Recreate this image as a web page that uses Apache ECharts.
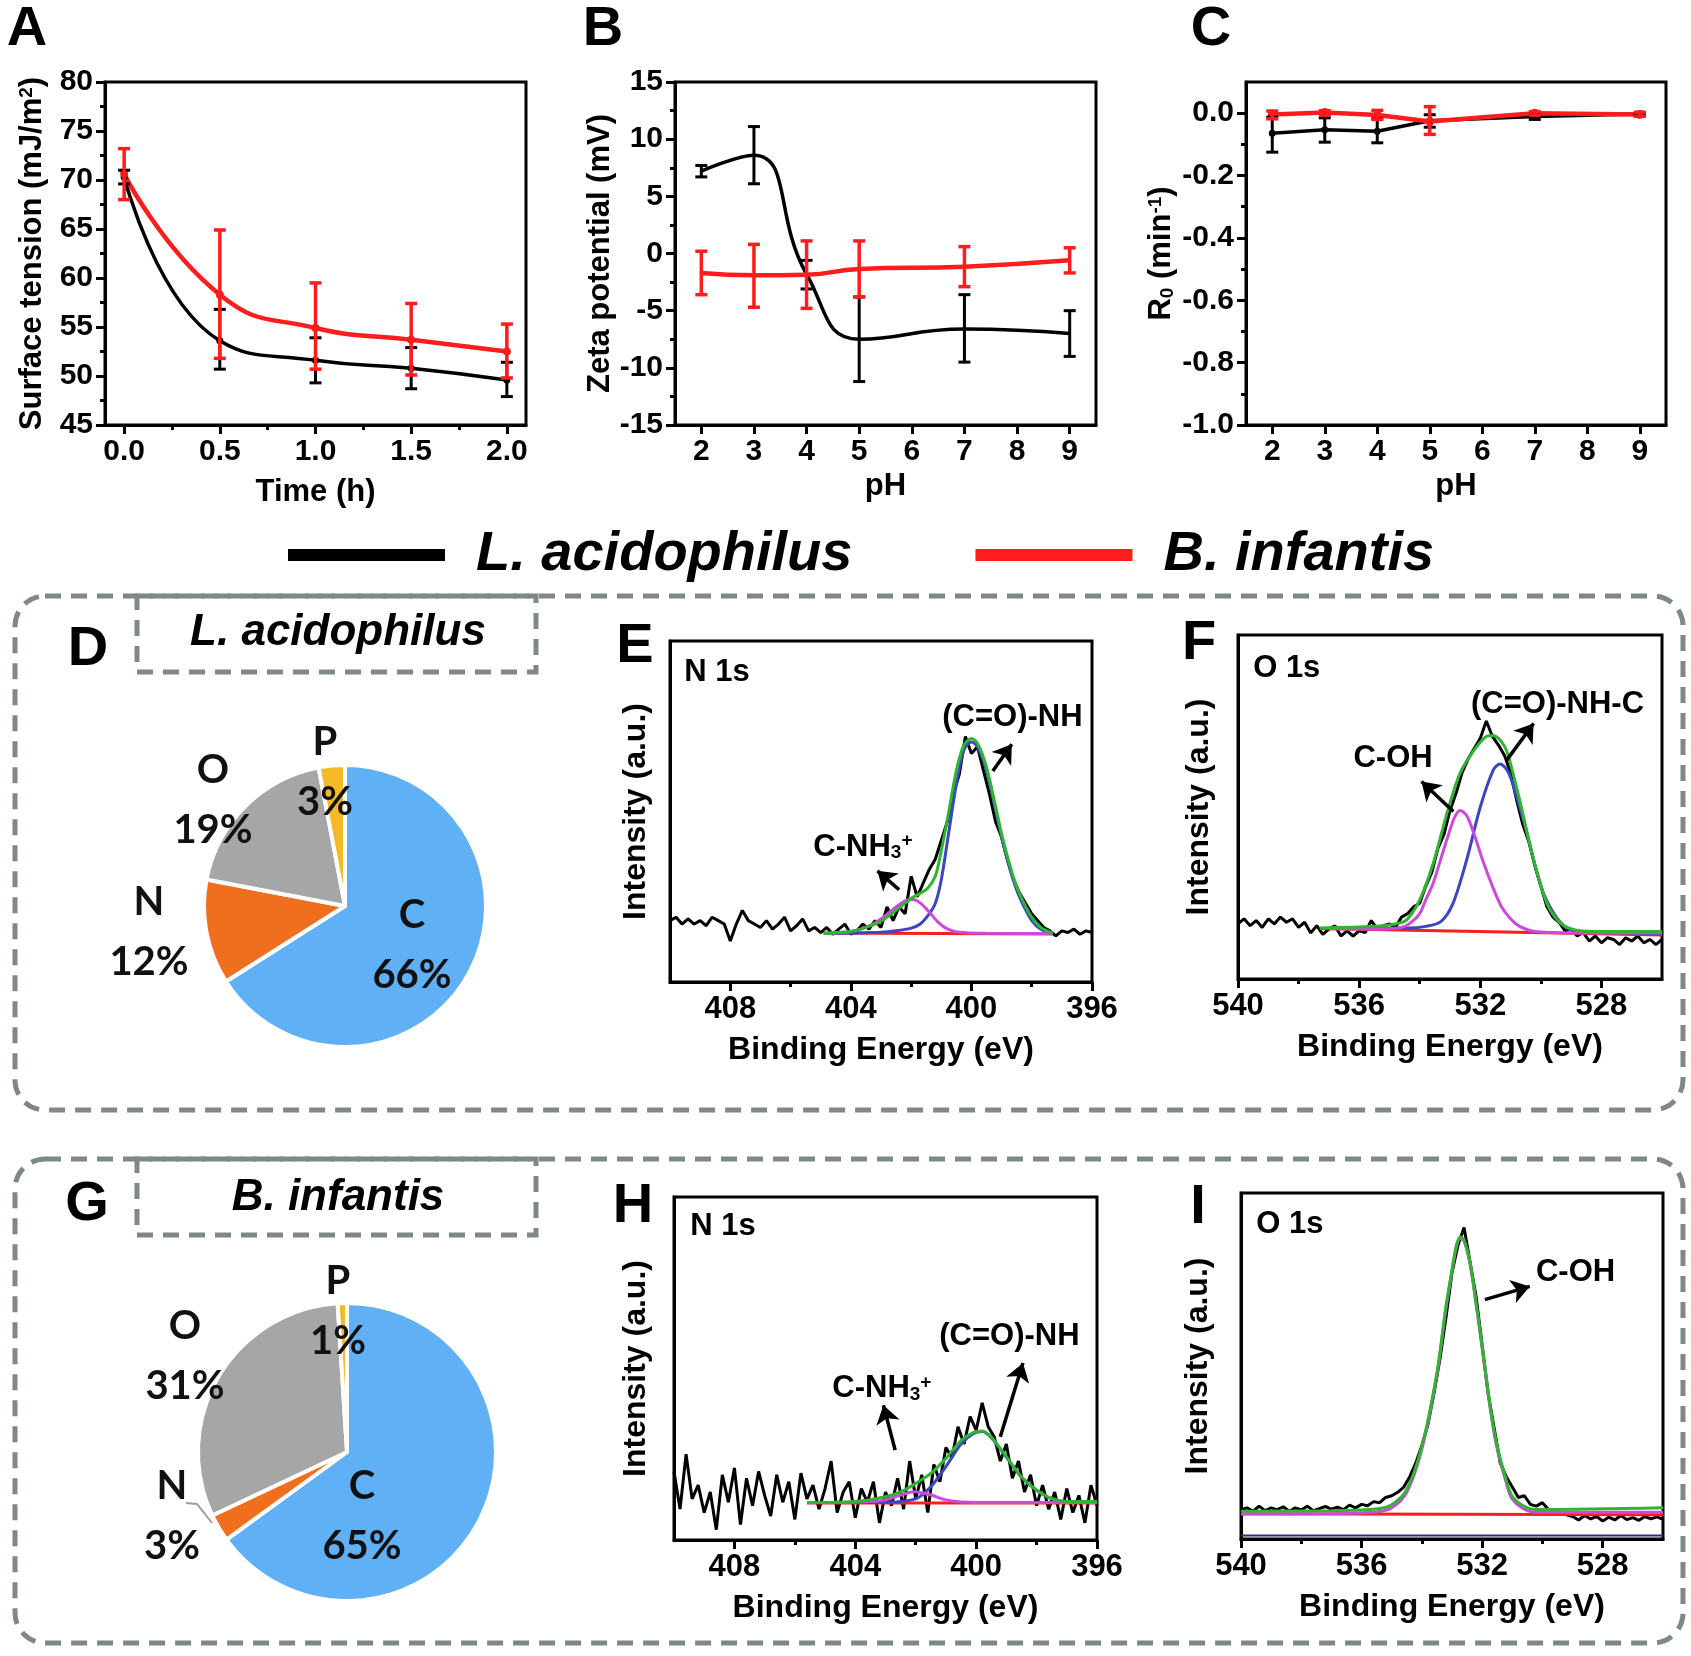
<!DOCTYPE html>
<html>
<head>
<meta charset="utf-8">
<script src="https://cdn.jsdelivr.net/npm/echarts@6/dist/echarts.min.js"></script>
<style>
  html, body { margin: 0; padding: 0; background: #fff; }
  #main { width: 1691px; height: 1656px; }
</style>
</head>
<body>
<div id="main"></div>
<script>
// ---------- data ----------
var ACID = 'L. acidophilus', INF = 'B. infantis';

// A: surface tension vs time
var timeH = [0, 0.5, 1.0, 1.5, 2.0];
var tensionAcid = [70.3, 53.6, 51.6, 50.8, 49.6];
var tensionAcidLow = [69.6, 50.7, 49.3, 48.7, 47.9];
var tensionAcidHigh = [71.0, 56.8, 53.9, 52.9, 51.4];
var tensionInf = [70.6, 58.3, 54.9, 53.7, 52.5];
var tensionInfLow = [68.0, 51.8, 50.7, 50.1, 49.8];
var tensionInfHigh = [73.2, 64.9, 59.5, 57.4, 55.3];

// B: zeta potential vs pH
var phValues = [2, 3, 4, 5, 7, 9];
var zetaAcid = [7.2, 8.6, -1.8, -7.5, -6.6, -7.0];
var zetaAcidLow = [6.7, 6.1, -3.1, -11.2, -9.5, -9.0];
var zetaAcidHigh = [7.7, 11.1, -0.6, -3.8, -3.6, -5.0];
var zetaInf = [-1.7, -1.9, -1.85, -1.35, -1.15, -0.6];
var zetaInfLow = [-3.6, -4.7, -4.8, -3.8, -2.9, -1.7];
var zetaInfHigh = [0.2, 0.8, 1.1, 1.1, 0.6, 0.5];

// C: R0 vs pH
var r0Acid = [-0.064, -0.053, -0.058, -0.024, -0.011, -0.003];
var r0AcidLow = [-0.125, -0.093, -0.095, -0.045, -0.02, -0.008];
var r0AcidHigh = [-0.013, -0.015, -0.018, -0.005, -0.002, 0.0];
var r0Inf = [-0.004, 0.002, -0.006, -0.027, 0.0, -0.004];
var r0InfLow = [-0.018, -0.006, -0.02, -0.068, -0.006, -0.01];
var r0InfHigh = [0.007, 0.008, 0.009, 0.021, 0.005, 0.003];

// D, G: element composition (%)
var elements = ['C', 'N', 'O', 'P'];
var compAcid = [66, 12, 19, 3];
var compInf = [65, 3, 31, 1];

// tick values
var timeTicks = [0, 0.5, 1.0, 1.5, 2.0];
var timeMinor = [0.25, 0.75, 1.25, 1.75];
var tensionTicks = [45, 50, 55, 60, 65, 70, 75, 80];
var tensionMinor = [47.5, 52.5, 57.5, 62.5, 67.5, 72.5, 77.5];
var phTicks = [2, 3, 4, 5, 6, 7, 8, 9];
var zetaTicks = [-15, -10, -5, 0, 5, 10, 15];
var zetaMinor = [-12.5, -7.5, -2.5, 2.5, 7.5, 12.5];
var r0Ticks = [-1.0, -0.8, -0.6, -0.4, -0.2, 0.0];
var r0Minor = [-0.9, -0.7, -0.5, -0.3, -0.1];
var n1sTicks = [396, 400, 404, 408];
var n1sMinor = [398, 402, 406];
var o1sTicks = [528, 532, 536, 540];
var o1sMinor = [530, 534, 538];

// XPS raw spectra, sampled every 0.2 eV from the high-energy end (intensity, a.u.)
var eRaw = [18, 19, 17, 18.5, 17, 18, 16.5, 19, 18, 17,
  12, 17, 21, 18, 17, 16, 18, 15.5, 17, 19,
  15, 16.5, 18.5, 15, 16, 14.5, 16, 14, 15.5, 17,
  14, 15, 17, 15.5, 18, 16, 22, 18, 22, 20,
  31, 25, 29, 33, 36, 41.5, 47, 55, 61, 72,
  67, 69, 62, 55, 47, 42.5, 35.7, 30, 26, 23,
  20, 18, 16, 15, 13.5, 15, 14.5, 15.5, 14, 15,
  14.5];
var fRaw = [16, 17.5, 15.5, 17, 15, 17.5, 16, 18, 16.5, 17.5,
  15, 16.5, 13.4, 15.5, 13, 14.5, 15.5, 12.5, 14, 12.5,
  14, 13.5, 17, 14.5, 15.5, 16, 15, 18, 19, 21,
  22, 27, 31, 38, 42, 49, 54, 60, 64, 67,
  70, 75, 70.5, 68, 65, 60, 52, 45, 40, 33,
  27, 21, 18, 16.5, 14, 14.5, 12.5, 13.5, 11, 12.5,
  10.5, 12, 11.5, 10, 12, 11, 12.5, 10.5, 11.5, 10,
  11.5];
var hRaw = [20, 9, 25, 12, 16, 8, 14, 3, 19, 11,
  21, 4.5, 18, 10, 20, 13, 7, 19, 11, 17,
  6, 19.5, 12, 16, 9, 15, 23, 8, 14, 17,
  6.5, 15, 11, 17, 5, 14, 10, 18, 9, 23,
  12, 19, 8, 22, 17, 27, 24, 33, 28, 36,
  32, 40, 33, 30, 23, 28, 18, 23, 14, 19,
  10, 16, 9, 14, 6, 15, 8, 13, 5, 16,
  10];
var iRaw = [8.5, 9, 8, 9.5, 8.2, 9, 8.5, 9.3, 8, 9,
  8.4, 9.5, 8.2, 8.8, 9.4, 8.6, 9.2, 8.5, 9.8, 9,
  10, 9.6, 10.8, 10.5, 12, 12.5, 13.5, 15, 18, 22,
  27, 33, 42, 52, 64, 77, 85, 90, 80, 70,
  56, 42, 32, 22, 18, 15, 12, 12.5, 10, 9.5,
  10.5, 8.5, 8, 7.5, 7, 6.5, 5.5, 6.8, 5.8, 6.5,
  5.2, 6.3, 5.5, 6.8, 5.6, 6.2, 5.4, 6.5, 5.8, 6.4,
  5.7];

// XPS fitted curves [binding energy, intensity]
var eBase = [[404.9, 14.4], [397.3, 14.1]];
var eAmide = [[404.9, 14.2], [403, 14.6], [402.5, 15], [402, 15.8], [401.7, 17], [401.4, 20], [401.2, 23], [401, 30], [400.75, 44], [400.5, 58], [400.25, 68], [400, 70.4], [399.8, 69], [399.5, 62], [399.2, 50.5], [399, 42.5], [398.75, 34], [398.5, 27], [398.25, 22], [398, 18], [397.7, 15.5], [397.3, 14.3]];
var eAmine = [[404.9, 14.2], [404, 14.8], [403.5, 16], [403, 18.5], [402.5, 22], [402.2, 23.8], [401.95, 24.2], [401.7, 23.2], [401.4, 20.5], [401.1, 17.5], [400.8, 15.6], [400.4, 14.6], [399.5, 14.3], [397.3, 14.2]];
var eEnvelope = [[404.9, 14.2], [404, 14.8], [403.5, 16], [403, 17.8], [402.5, 21], [402, 24.5], [401.7, 26], [401.45, 27.5], [401.2, 31], [401, 38.5], [400.75, 50], [400.5, 62], [400.25, 69.5], [400, 71.4], [399.8, 70], [399.5, 63], [399.2, 51.5], [399, 43.5], [398.75, 35], [398.5, 28], [398.25, 23], [398, 19], [397.7, 16], [397.3, 14.3]];

var fBase = [[537.3, 14.7], [526, 12.8]];
var fAmide = [[537, 14.7], [534.4, 14.8], [533.8, 15.3], [533.3, 16.7], [532.9, 22], [532.45, 34.6], [532, 50], [531.57, 60.8], [531.35, 62.5], [531.1, 60.5], [530.9, 56], [530.46, 42.4], [530, 27], [529.58, 19.2], [529.14, 14.8], [528.7, 13.8], [526, 13.2]];
var fHydroxyl = [[537, 14.6], [535.5, 14.5], [534.6, 15], [534.3, 16.3], [534, 19], [533.8, 23], [533.55, 28], [533.3, 35], [533.05, 42], [532.85, 47], [532.67, 49], [532.45, 47.5], [532.2, 42], [531.9, 34], [531.6, 27], [531.3, 21], [531, 17.5], [530.7, 15.3], [530.2, 13.8], [529, 13.4], [526, 13.4]];
var fEnvelope = [[537.3, 14.8], [535.5, 15.3], [534.8, 16], [534.43, 17.2], [534, 23], [533.55, 33.7], [533.1, 48.2], [532.67, 59.8], [532.2, 66.6], [531.8, 70.5], [531.57, 70.8], [531.3, 69], [531.1, 65.6], [530.7, 52], [530.24, 34.7], [529.8, 22], [529.36, 16.3], [528.9, 14.3], [528.26, 13.8], [526, 13.8]];

var hBase = [[405.6, 10.8], [396, 10.8]];
var hAmide = [[404.5, 10.9], [403, 11], [402, 12], [401.5, 15.5], [401, 21.4], [400.5, 28], [400.1, 31], [399.8, 31.6], [399.5, 29.8], [399, 24.2], [398.5, 18.3], [398, 14.5], [397.5, 12], [397, 11.1], [396, 11]];
var hAmine = [[404.5, 10.9], [403.5, 11.2], [403, 11.7], [402.5, 13.1], [402.05, 14.1], [401.5, 13.1], [401, 11.7], [400.5, 11.1], [399.5, 10.9], [396, 10.9]];
var hEnvelope = [[405.6, 10.9], [404, 11.2], [403, 12.6], [402.5, 14], [402, 16.5], [401.5, 19.4], [401, 23.8], [400.5, 29], [400.1, 31.3], [399.8, 31.8], [399.5, 30], [399, 24.3], [398.5, 18.4], [398, 14.6], [397.5, 12.1], [397, 11.2], [396, 11.2]];

var iBase = [[540, 7.3], [526, 7.0]];
var iSecond = [[540, 1], [526, 1]];
var iHydroxyl = [[540, 7.2], [537, 7.3], [535.5, 7.8], [535, 9], [534.5, 13.5], [534, 26], [533.5, 47.5], [533.2, 66.8], [533, 77.4], [532.85, 84.6], [532.72, 86.9], [532.6, 86.1], [532.4, 79.4], [532.2, 67.8], [532, 55.2], [531.7, 35.8], [531.5, 26], [531.2, 16.3], [531, 11.5], [530.5, 8.2], [530, 7.7], [526, 7.7]];
var iEnvelope = [[540, 8], [537, 8.2], [535.5, 8.7], [535, 9.9], [534.5, 14.3], [534, 26.8], [533.5, 48], [533.2, 67.2], [533, 77.8], [532.85, 85], [532.72, 87.3], [532.6, 86.5], [532.4, 79.8], [532.2, 68.2], [532, 55.7], [531.7, 36.4], [531.5, 26.8], [531.2, 17.1], [531, 12.3], [530.5, 9], [530, 8.5], [526, 9]];

// ---------- styling / layout ----------
var FONT = 'Liberation Sans';
var RED = '#ff1c1c', BLUE = '#3a46c2', NAVY = '#2b2f86', MAG = '#cf48dc', GREEN = '#2fb52f';
var GRAY = '#7e8884';
var pieColors = ['#5fb0f4', '#f06f1f', '#a6a6a6', '#f5b927'];

var grids = [
  { left: 105, top: 82, width: 421, height: 343 },   // A
  { left: 675, top: 82, width: 421, height: 343 },   // B
  { left: 1246, top: 82, width: 420, height: 343 },  // C
  { left: 670, top: 641, width: 422, height: 341 },  // E
  { left: 1238, top: 635, width: 424, height: 344 }, // F
  { left: 674, top: 1197, width: 423, height: 343 }, // H
  { left: 1241, top: 1193, width: 422, height: 346 } // I
].map(function (g) {
  return Object.assign({ show: true, borderColor: '#000', borderWidth: 3, backgroundColor: 'transparent' }, g);
});

var richTags = {
  sup: { fontSize: 19, fontWeight: 'bold', fontFamily: FONT, color: '#000', verticalAlign: 'top' },
  sub: { fontSize: 19, fontWeight: 'bold', fontFamily: FONT, color: '#000', verticalAlign: 'bottom' }
};

function nameStyle(size) {
  return { fontSize: size, fontWeight: 'bold', fontFamily: FONT, color: '#000', rich: richTags };
}

var xAxes = [], yAxes = [];
function addAxes(list, grid, pos, c) {
  var line = { color: '#000', width: 3 };
  list.push({
    type: 'value', gridIndex: grid, position: pos, min: c.min, max: c.max, inverse: !!c.inverse,
    axisLine: { show: true, onZero: false, lineStyle: line },
    axisTick: c.major ? { show: true, customValues: c.major, length: 9, lineStyle: line } : { show: false },
    axisLabel: c.major ? {
      show: true, customValues: c.major, formatter: c.fmt, margin: 12,
      color: '#000', fontSize: c.fs || 30, fontWeight: 'bold', fontFamily: FONT
    } : { show: false },
    splitLine: { show: false },
    name: c.name, nameLocation: 'middle', nameGap: c.gap, nameTextStyle: nameStyle(c.ns || 31)
  });
  // second axis on the same side carries only the shorter minor ticks
  list.push({
    type: 'value', gridIndex: grid, position: pos, offset: 0, min: c.min, max: c.max, inverse: !!c.inverse,
    axisLine: { show: false, onZero: false },
    axisTick: c.minor ? { show: true, customValues: c.minor, length: 5, lineStyle: line } : { show: false },
    axisLabel: { show: false }, splitLine: { show: false }
  });
}
function fixed1(v) { return v.toFixed(1); }
function plain(v) { return String(Math.round(v)); }

// A, B, C
addAxes(xAxes, 0, 'bottom', { min: -0.1, max: 2.1, major: timeTicks, minor: timeMinor, fmt: fixed1, name: 'Time (h)', gap: 52 });
addAxes(yAxes, 0, 'left', { min: 45, max: 80, major: tensionTicks, minor: tensionMinor, fmt: plain, name: 'Surface tension (mJ/m{sup|2})', gap: 57 });
addAxes(xAxes, 1, 'bottom', { min: 1.5, max: 9.5, major: phTicks, fmt: plain, name: 'pH', gap: 46 });
addAxes(yAxes, 1, 'left', { min: -15, max: 15, major: zetaTicks, minor: zetaMinor, fmt: plain, name: 'Zeta potential (mV)', gap: 58 });
addAxes(xAxes, 2, 'bottom', { min: 1.5, max: 9.5, major: phTicks, fmt: plain, name: 'pH', gap: 46 });
addAxes(yAxes, 2, 'left', { min: -1.0, max: 0.1, major: r0Ticks, minor: r0Minor, fmt: fixed1, name: 'R{sub|0} (min{sup|-1})', gap: 69 });
// E, F, H, I
var xpsX = [
  { min: 396, max: 410, major: n1sTicks, minor: n1sMinor, yGap: 18 },
  { min: 526, max: 540, major: o1sTicks, minor: o1sMinor, yGap: 23 },
  { min: 396, max: 410, major: n1sTicks, minor: n1sMinor, yGap: 22 },
  { min: 526, max: 540, major: o1sTicks, minor: o1sMinor, yGap: 27 }
];
xpsX.forEach(function (c, k) {
  addAxes(xAxes, 3 + k, 'bottom', {
    min: c.min, max: c.max, inverse: true, major: c.major, minor: c.minor, fmt: plain,
    fs: 31, name: 'Binding Energy (eV)', ns: 32, gap: 52
  });
  addAxes(yAxes, 3 + k, 'left', { min: 0, max: 100, name: 'Intensity (a.u.)', ns: 32, gap: c.yGap });
});

// ---------- series ----------
function zip(xs, ys) { return xs.map(function (x, i) { return [x, ys[i]]; }); }
function sampled(start, step, vals) {
  return vals.map(function (v, i) { return [+(start - i * step).toFixed(2), v]; });
}

function curve(name, panel, data, color, width, smooth, symbolSize) {
  return {
    type: 'line', name: name, xAxisIndex: 2 * panel, yAxisIndex: 2 * panel, data: data,
    smooth: smooth, symbol: symbolSize ? 'circle' : 'none', symbolSize: symbolSize || 0,
    showSymbol: !!symbolSize, lineStyle: { color: color, width: width }, itemStyle: { color: color },
    silent: true, z: 2
  };
}

function errorBars(name, panel, xs, lo, hi, color, width) {
  return {
    type: 'custom', name: name, xAxisIndex: 2 * panel, yAxisIndex: 2 * panel,
    data: xs.map(function (x, i) { return [x, lo[i], hi[i]]; }),
    encode: { x: 0, y: [1, 2] }, silent: true, z: 3,
    renderItem: function (params, api) {
      var a = api.coord([api.value(0), api.value(1)]);
      var b = api.coord([api.value(0), api.value(2)]);
      var h = 6, st = { stroke: color, lineWidth: width };
      return {
        type: 'group', children: [
          { type: 'line', shape: { x1: a[0], y1: a[1], x2: b[0], y2: b[1] }, style: st },
          { type: 'line', shape: { x1: a[0] - h, y1: a[1], x2: a[0] + h, y2: a[1] }, style: st },
          { type: 'line', shape: { x1: b[0] - h, y1: b[1], x2: b[0] + h, y2: b[1] }, style: st }
        ]
      };
    }
  };
}

var series = [
  curve(ACID, 0, zip(timeH, tensionAcid), '#000', 3.5, true, 7),
  errorBars(ACID, 0, timeH, tensionAcidLow, tensionAcidHigh, '#000', 3),
  curve(INF, 0, zip(timeH, tensionInf), RED, 4.5, true, 8),
  errorBars(INF, 0, timeH, tensionInfLow, tensionInfHigh, RED, 3.5),

  curve(ACID, 1, zip(phValues, zetaAcid), '#000', 3.5, true, 0),
  errorBars(ACID, 1, phValues, zetaAcidLow, zetaAcidHigh, '#000', 3),
  curve(INF, 1, zip(phValues, zetaInf), RED, 4.5, true, 0),
  errorBars(INF, 1, phValues, zetaInfLow, zetaInfHigh, RED, 3.5),

  curve(ACID, 2, zip(phValues, r0Acid), '#000', 3.5, false, 7),
  errorBars(ACID, 2, phValues, r0AcidLow, r0AcidHigh, '#000', 3),
  curve(INF, 2, zip(phValues, r0Inf), RED, 4.5, false, 9),
  errorBars(INF, 2, phValues, r0InfLow, r0InfHigh, RED, 3.5)
];

function annotate(s, notes, arrows) {
  s.markPoint = {
    symbol: 'rect', symbolSize: 1, silent: true, itemStyle: { color: 'rgba(0,0,0,0)' },
    label: {
      show: true, position: 'inside', color: '#000', fontSize: 31, fontWeight: 'bold', fontFamily: FONT,
      formatter: function (p) { return p.name; }, rich: richTags
    },
    data: notes.map(function (n) { return { name: n[0], coord: n[1] }; })
  };
  s.markLine = {
    silent: true, symbol: ['none', 'arrow'], symbolSize: 18, animation: false,
    lineStyle: { color: '#000', width: 3.5, type: 'solid' }, label: { show: false },
    data: arrows.map(function (a) { return [{ coord: a[0] }, { coord: a[1] }]; })
  };
  return s;
}

function xps(k, raw, start, comps, notes, arrows) {
  var panel = 3 + k;
  series.push(curve('raw', panel, sampled(start, 0.2, raw), '#000', 3, false, 0));
  comps.forEach(function (c, i) {
    var s = curve('fit', panel, c[0], c[1], c[2] || 3, 0.3, 0);
    if (i === comps.length - 1) annotate(s, notes, arrows);
    series.push(s);
  });
}

xps(0, eRaw, 410, [[eBase, RED], [eAmide, BLUE], [eAmine, MAG], [eEnvelope, GREEN]],
  [['N 1s', [408.44, 90.9]], ['(C=O)-NH', [398.64, 77.7]], ['C-NH{sub|3}{sup|+}', [403.6, 39.6]]],
  [[[399.29, 61.9], [398.66, 69.7]], [[402.4, 27.1], [403.12, 32.6]]]);
xps(1, fRaw, 540, [[fBase, RED], [fAmide, BLUE], [fHydroxyl, MAG], [fEnvelope, GREEN]],
  [['O 1s', [538.39, 90.3]], ['(C=O)-NH-C', [529.45, 79.7]], ['C-OH', [534.88, 64.2]]],
  [[[531.12, 63.7], [530.24, 74.3]], [[532.89, 48.7], [533.94, 57.4]]]);
xps(2, hRaw, 410, [[hBase, RED], [hAmide, BLUE], [hAmine, MAG], [hEnvelope, GREEN]],
  [['N 1s', [408.38, 91.3]], ['(C=O)-NH', [398.9, 59.2]], ['C-NH{sub|3}{sup|+}', [403.12, 44.2]]],
  [[[399.2, 30.1], [398.45, 51.6]], [[402.68, 26.2], [403.07, 39.3]]]);
xps(3, iRaw, 540, [[iSecond, NAVY, 2], [iBase, RED], [iHydroxyl, MAG], [iEnvelope, GREEN]],
  [['O 1s', [538.38, 90.8]], ['C-OH', [528.9, 76.9]]],
  [[[531.91, 69.2], [530.42, 73.0]]]);

// pies
function pie(center, radius, values, labelOffsets, lineFor) {
  return {
    type: 'pie', center: center, radius: radius, startAngle: 90, clockwise: true,
    avoidLabelOverlap: false, silent: true,
    itemStyle: { borderColor: '#fff', borderWidth: 4 },
    label: {
      show: true, position: 'outside', formatter: '{b}\n{c}%', color: '#111',
      fontSize: 40, fontWeight: 'bold', fontFamily: 'Lato', lineHeight: 60, align: 'center'
    },
    labelLine: { show: false },
    data: elements.map(function (n, i) {
      var d = { name: n, value: values[i], itemStyle: { color: pieColors[i] } };
      if (lineFor && lineFor.index === i) d.labelLine = { show: true, lineStyle: { color: '#9aa0a0', width: 2 } };
      return d;
    }),
    labelLayout: function (p) {
      var o = labelOffsets[p.dataIndex];
      var r = { x: center[0] + o[0], y: center[1] + o[1], align: 'center', verticalAlign: 'middle' };
      if (lineFor && lineFor.index === p.dataIndex) r.labelLinePoints = lineFor.points;
      return r;
    }
  };
}
series.push(pie([345, 906], 141, compAcid, [[67, 39], [-196, 26], [-132, -106], [-20, -134]]));
series.push(pie([347, 1452], 149, compInf, [[15, 64], [-175, 64], [-162, -96], [-9, -141]],
  { index: 1, points: [[212, 1523], [197, 1504], [186, 1503]] }));

// ---------- decorations ----------
function letter(t, x, y) {
  return {
    type: 'text', x: x, y: y, silent: true,
    style: { text: t, font: 'bold 56px ' + FONT, fill: '#000', align: 'center', verticalAlign: 'middle', textAlign: 'center', textVerticalAlign: 'middle' }
  };
}
function dashed(x, y, w, h, r) {
  return {
    type: 'rect', silent: true, shape: { x: x, y: y, width: w, height: h, r: r },
    style: { fill: 'none', stroke: GRAY, lineWidth: 5, lineDash: [16, 10] }
  };
}
function caption(t, x, y) {
  return {
    type: 'text', x: x, y: y, silent: true,
    style: { text: t, font: 'italic bold 44px ' + FONT, fill: '#000', align: 'center', verticalAlign: 'middle', textAlign: 'center', textVerticalAlign: 'middle' }
  };
}

var graphics = [
  dashed(15, 596, 1668, 514, 30), dashed(137, 596, 399, 76, 0), caption(ACID, 338, 633),
  dashed(15, 1159, 1668, 484, 30), dashed(137, 1159, 399, 76, 0), caption(INF, 338, 1198),
  letter('A', 27, 30), letter('B', 603, 30), letter('C', 1211, 30),
  letter('D', 88, 650), letter('E', 635, 647), letter('F', 1199, 644),
  letter('G', 87, 1205), letter('H', 633, 1207), letter('I', 1198, 1208)
];

var chart = echarts.init(document.getElementById('main'), null, { renderer: 'canvas' });
chart.setOption({
  animation: false,
  backgroundColor: '#fff',
  textStyle: { fontFamily: FONT },
  grid: grids,
  xAxis: xAxes,
  yAxis: yAxes,
  legend: {
    data: [ACID, INF], left: 283, top: 522, icon: 'rect', itemWidth: 157, itemHeight: 12, itemGap: 123,
    selectedMode: false,
    textStyle: { fontSize: 56, fontWeight: 'bold', fontStyle: 'italic', fontFamily: FONT, color: '#000', padding: [0, 0, 0, 26] }
  },
  series: series,
  graphic: graphics
});
</script>
</body>
</html>
